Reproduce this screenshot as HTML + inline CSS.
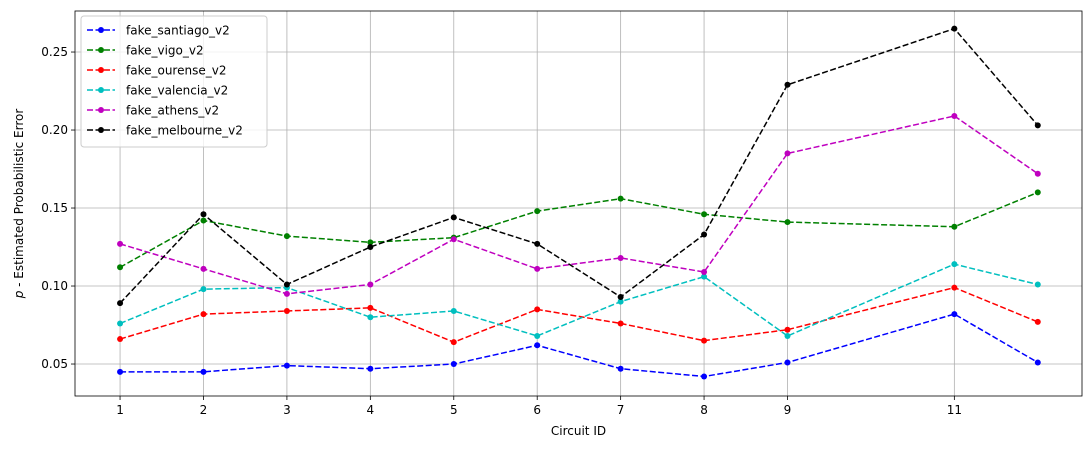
<!DOCTYPE html>
<html><head><meta charset="utf-8"><style>
body{margin:0;background:#fff;font-family:"Liberation Sans","DejaVu Sans",sans-serif;}
svg text{font-family:"DejaVu Sans","Liberation Sans",sans-serif;}
</style></head><body>
<svg id="chart" width="1091" height="448" xmlns="http://www.w3.org/2000/svg"></svg>
<script>
const circuits=[1,2,3,4,5,6,7,8,9,11,12];
const xTicks=[1,2,3,4,5,6,7,8,9,11];
const yTicks=[0.05,0.10,0.15,0.20,0.25];
const seriesNames=["fake_santiago_v2","fake_vigo_v2","fake_ourense_v2","fake_valencia_v2","fake_athens_v2","fake_melbourne_v2"];
const seriesColors=["#0000ff","#008000","#ff0000","#00bfbf","#bf00bf","#000000"];
const santiago=[0.045,0.045,0.049,0.047,0.050,0.062,0.047,0.042,0.051,0.082,0.051];
const vigo=[0.112,0.142,0.132,0.128,0.131,0.148,0.156,0.146,0.141,0.138,0.160];
const ourense=[0.066,0.082,0.084,0.086,0.064,0.085,0.076,0.065,0.072,0.099,0.077];
const valencia=[0.076,0.098,0.099,0.080,0.084,0.068,0.090,0.106,0.068,0.114,0.101];
const athens=[0.127,0.111,0.095,0.101,0.130,0.111,0.118,0.109,0.185,0.209,0.172];
const melbourne=[0.089,0.146,0.101,0.125,0.144,0.127,0.093,0.133,0.229,0.265,0.203];
const seriesData=[santiago,vigo,ourense,valencia,athens,melbourne];

const L=75,R=1082,T=11,B=396;
const xMin=0.46,xMax=12.53,yMin=0.0295,yMax=0.2763;
const xs=v=>L+(v-xMin)/(xMax-xMin)*(R-L);
const ys=v=>B-(v-yMin)/(yMax-yMin)*(B-T);
const svg=document.getElementById('chart');
const NS="http://www.w3.org/2000/svg";
function mk(tag,attrs,parent){const e=document.createElementNS(NS,tag);for(const k in attrs)e.setAttribute(k,attrs[k]);(parent||svg).appendChild(e);return e;}

const grid=mk('g',{});


xTicks.forEach(t=>{
  mk('line',{x1:xs(t),x2:xs(t),y1:T,y2:B,stroke:'#b0b0b0','stroke-width':0.8},grid);
  mk('line',{x1:xs(t),x2:xs(t),y1:B,y2:B+4,stroke:'#000','stroke-width':0.8});
  const tx=mk('text',{x:xs(t),y:B+18,'text-anchor':'middle','font-size':12});
  tx.textContent=t;
  
  
});
yTicks.forEach(t=>{
  mk('line',{x1:L,x2:R,y1:ys(t),y2:ys(t),stroke:'#b0b0b0','stroke-width':0.8},grid);
  mk('line',{x1:L-4,x2:L,y1:ys(t),y2:ys(t),stroke:'#000','stroke-width':0.8});
  const tx=mk('text',{x:L-7,y:ys(t)+4,'text-anchor':'end','font-size':12});
  tx.textContent=t.toFixed(2);
  
  
});

seriesData.forEach((d,i)=>{
  const g=mk('g',{});
  
  
  mk('polyline',{points:d.map((v,j)=>xs(circuits[j])+','+ys(v)).join(' '),fill:'none',stroke:seriesColors[i],'stroke-width':1.5,'stroke-dasharray':'6,2.5'},g);
  d.forEach((v,j)=>{
    const c=mk('circle',{cx:xs(circuits[j]),cy:ys(v),r:3,fill:seriesColors[i]},g);
    
    
  });
});

const frame=mk('rect',{x:L,y:T,width:R-L,height:B-T,fill:'none',stroke:'#000','stroke-width':0.8});



const xt=mk('text',{x:(L+R)/2,y:435,'text-anchor':'middle','font-size':12});
xt.textContent='Circuit ID';


const yt=mk('text',{x:0,y:0,'text-anchor':'middle','font-size':12,transform:'translate(23,'+((T+B)/2)+') rotate(-90)'});
yt.innerHTML='<tspan font-style="italic">p</tspan> - Estimated Probabilistic Error';



const lg=mk('g',{});


mk('rect',{x:81,y:16,width:186,height:131,rx:3,fill:'#fff','fill-opacity':0.8,stroke:'#cccccc'},lg);
seriesNames.forEach((n,i)=>{
  const y=30+i*20;
  const e=mk('g',{},lg);
  
  
  mk('line',{x1:87,x2:115,y1:y,y2:y,stroke:seriesColors[i],'stroke-width':1.5,'stroke-dasharray':'6,2.5'},e);
  mk('circle',{cx:101,cy:y,r:3,fill:seriesColors[i]},e);
  const t=mk('text',{x:126,y:y+4.5,'font-size':12},e);
  t.textContent=n;
});
</script>
</body></html>
